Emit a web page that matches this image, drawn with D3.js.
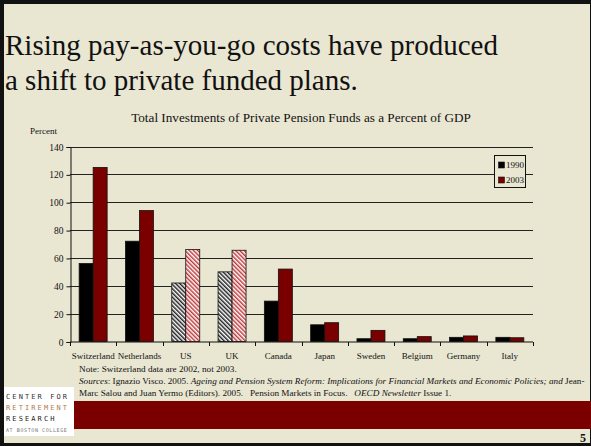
<!DOCTYPE html>
<html>
<head>
<meta charset="utf-8">
<script src="https://cdn.jsdelivr.net/npm/d3@7"></script>
<style>
body{margin:0;background:#e9e6d1;}
</style>
</head>
<body>
<div id="chart"></div>
<script>
// values (percent of GDP)
var categories = ["Switzerland","Netherlands","US","UK","Canada","Japan","Sweden","Belgium","Germany","Italy"];
var years = ["1990","2003"];
var values1990 = [56, 72, 42, 50, 29, 12, 2, 2, 3, 3];
var values2003 = [125, 94, 66, 65.5, 52, 13.5, 8, 3.5, 4, 2.7];
var hatchedCategories = ["US","UK"];
var yTicks = [0, 20, 40, 60, 80, 100, 120, 140];

var bg = "#e9e6d1", maroon = "#7a0000";
var serif = "'Liberation Serif', 'Times New Roman', serif";

var svg = d3.select("#chart").append("svg").attr("width", 591).attr("height", 446)
    .style("font-family", serif);

// slide frame
svg.append("rect").attr("width", 591).attr("height", 446).attr("fill", "#111");
svg.append("rect").attr("x", 4).attr("y", 4).attr("width", 586).attr("height", 439).attr("fill", bg);

svg.append("text").attr("x", 5).attr("y", 55).style("font-family", serif).style("font-size", "29px").attr("fill", "#111")
    .text("Rising pay-as-you-go costs have produced");
svg.append("text").attr("x", 5).attr("y", 90).style("font-family", serif).style("font-size", "29px").attr("fill", "#111")
    .text("a shift to private funded plans.");

// hatch patterns
var defs = svg.append("defs");
function hatch(id, col){
    var p = defs.append("pattern").attr("id", id).attr("patternUnits", "userSpaceOnUse")
        .attr("width", 3).attr("height", 3).attr("patternTransform", "rotate(-45)");
    p.append("rect").attr("width", 3).attr("height", 3).attr("fill", "#fff");
    p.append("rect").attr("width", 1.5).attr("height", 3).attr("fill", col);
}
hatch("hatch1990", "#222");
hatch("hatch2003", "#c0393b");

var x = d3.scaleBand().domain(categories).range([70, 533]);
var xs = d3.scaleBand().domain(years).range([0, x.bandwidth()]).paddingOuter(0.654);
var y = d3.scaleLinear().domain([0, 140]).range([341.5, 146.5]);

var g = svg.append("g");

g.append("text").attr("x", 301).attr("y", 122).attr("text-anchor", "middle").style("font-size", "13.2px")
    .attr("fill", "#111").text("Total Investments of Private Pension Funds as a Percent of GDP");
g.append("text").attr("x", 30).attr("y", 134).style("font-size", "9px").attr("fill", "#111").text("Percent");

// gridlines
g.selectAll(".grid").data(yTicks.filter(d => d > 0)).enter().append("line")
    .attr("x1", 70).attr("x2", 533)
    .attr("y1", d => Math.round(y(d)) + 0.5).attr("y2", d => Math.round(y(d)) + 0.5)
    .attr("stroke", "#222").attr("stroke-width", 1);

// y axis
var ya = g.append("g").attr("transform", "translate(70.5,0.5)")
    .call(d3.axisLeft(y).tickValues(yTicks).tickSize(4).tickPadding(3));
ya.attr("font-family", null);
ya.select(".domain").attr("stroke", "#111");
ya.selectAll("line").attr("stroke", "#111");
ya.selectAll("text").style("font-size", "9.5px").style("font-family", serif).attr("fill", "#111");

// bars
var rows = categories.map((c, i) => ({cat: c, vals: [values1990[i], values2003[i]]}));
var grp = g.selectAll(".cat").data(rows).enter().append("g")
    .attr("transform", d => "translate(" + x(d.cat) + ",0)");
grp.selectAll("rect").data(d => d.vals.map((v, j) => ({cat: d.cat, year: years[j], v: v})))
    .enter().append("rect")
    .attr("x", d => xs(d.year)).attr("width", xs.bandwidth())
    .attr("y", d => y(d.v)).attr("height", d => y(0) - y(d.v))
    .attr("fill", d => hatchedCategories.indexOf(d.cat) >= 0 ? "url(#hatch" + d.year + ")" : (d.year == "1990" ? "#000" : maroon))
    .attr("stroke", "#111").attr("stroke-width", 0.8);

// x axis
g.append("line").attr("x1", 70).attr("x2", 533).attr("y1", 342).attr("y2", 342).attr("stroke", "#111");
g.selectAll(".xt").data(categories.map(c => x(c)).concat([x.range()[1]])).enter().append("line")
    .attr("x1", d => Math.round(d) + 0.5).attr("x2", d => Math.round(d) + 0.5)
    .attr("y1", 342).attr("y2", 346).attr("stroke", "#111");
g.selectAll(".xl").data(categories).enter().append("text")
    .attr("x", d => x(d) + x.bandwidth() / 2).attr("y", 359)
    .attr("text-anchor", "middle").style("font-size", "9px").attr("fill", "#111").text(d => d);

// legend
var lg = g.append("g").attr("transform", "translate(494.5,155.5)");
lg.append("rect").attr("width", 31).attr("height", 32).attr("fill", bg).attr("stroke", "#111");
lg.selectAll(".sw").data(years).enter().append("rect")
    .attr("x", 4).attr("y", (d, i) => 6.5 + i * 15).attr("width", 6).attr("height", 6)
    .attr("fill", (d, i) => i ? maroon : "#000").attr("stroke", "#111").attr("stroke-width", 0.6);
lg.selectAll(".lt").data(years).enter().append("text")
    .attr("x", 11.5).attr("y", (d, i) => 12.5 + i * 15).style("font-size", "9px").attr("fill", "#111").text(d => d);

// notes
var nfs = "9.2px";
svg.append("text").attr("x", 79).attr("y", 372).style("font-size", nfs).attr("fill", "#111")
    .text("Note: Switzerland data are 2002, not 2003.");
var s1 = svg.append("text").attr("x", 79).attr("y", 384).style("font-size", nfs).attr("fill", "#111");
s1.append("tspan").attr("font-style", "italic").text("Sources");
s1.append("tspan").text(": Ignazio Visco. 2005. ");
s1.append("tspan").attr("font-style", "italic").text("Ageing and Pension System Reform: Implications for Financial Markets and Economic Policies; and ");
s1.append("tspan").text("Jean-");
var s2 = svg.append("text").attr("x", 79).attr("y", 396).style("font-size", nfs).attr("fill", "#111")
    .style("white-space", "pre");
s2.append("tspan").text("Marc Salou and Juan Yermo (Editors). 2005.   Pension Markets in Focus.   ");
s2.append("tspan").attr("font-style", "italic").text("OECD Newsletter");
s2.append("tspan").text(" Issue 1.");

// bottom band
svg.append("rect").attr("x", 74).attr("y", 401).attr("width", 517).attr("height", 28).attr("fill", maroon);
svg.append("text").attr("x", 586).attr("y", 442).attr("text-anchor", "end").style("font-size", "12px")
    .attr("font-weight", "bold").attr("fill", "#111").text("5");

// logo
var logo = svg.append("g");
logo.append("rect").attr("x", 4).attr("y", 387).attr("width", 70).attr("height", 49).attr("fill", "#fff");
var logoRows = [["CENTER FOR", "#333", 7], ["RETIREMENT", "#b07a50", 7], ["RESEARCH", "#222", 7], ["AT BOSTON COLLEGE", "#777", 5]];
logo.selectAll("text").data(logoRows).enter().append("text")
    .attr("x", 6).attr("y", (d, i) => 399 + i * 11)
    .style("font-size", d => d[2] + "px")
    .attr("letter-spacing", d => d[2] == 7 ? 2.1 : 0.6)
    .attr("fill", d => d[1]).style("font-family", "'DejaVu Sans Mono', monospace").text(d => d[0]);
</script>
</body>
</html>
